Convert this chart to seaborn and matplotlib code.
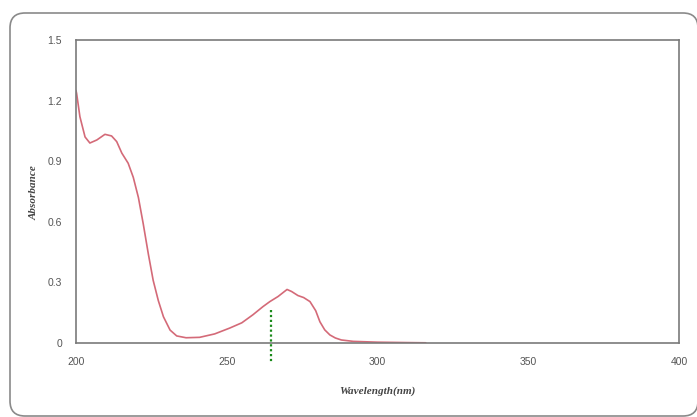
import matplotlib
matplotlib.use("Agg")
import matplotlib.pyplot as plt
from matplotlib.patches import FancyBboxPatch
from matplotlib.transforms import IdentityTransform
import seaborn as sns
import pandas as pd

wavelength = [200.0, 200.2, 201.3, 203.0, 204.6, 206.9, 209.6, 211.8, 213.5, 215.2,
              217.3, 219.0, 220.7, 222.3, 224.0, 225.6, 227.3, 229.0, 231.2, 233.4,
              236.5, 241.0, 246.0, 251.0, 255.0, 258.7, 262.0, 264.3, 267.0, 270.0,
              271.5, 273.6, 275.5, 277.6, 279.5, 280.9, 282.5, 284.2, 286.0, 288.0,
              292.0, 300.0, 310.0, 316.0]
absorbance = [1.25, 1.236, 1.12, 1.02, 0.99, 1.005, 1.033, 1.025, 0.997, 0.94,
              0.89, 0.82, 0.72, 0.59, 0.44, 0.31, 0.21, 0.13, 0.064, 0.035,
              0.026, 0.028, 0.045, 0.074, 0.10, 0.14, 0.18, 0.205, 0.23, 0.265,
              0.255, 0.235, 0.225, 0.205, 0.16, 0.105, 0.065, 0.04, 0.025, 0.015,
              0.008, 0.004, 0.002, 0.001]
marker_x = [264.7, 264.7]
marker_y = [0.163, -0.10]

x_ticks = [200, 250, 300, 350, 400]
y_ticks = [0, 0.3, 0.6, 0.9, 1.2, 1.5]
y_tick_labels = ["0", "0.3", "0.6", "0.9", "1.2", "1.5"]

sns.set_style("white")
fig = plt.figure(figsize=(6.97, 4.17), dpi=100)
ax = fig.add_axes([76/697, 74/417, 603/697, 303/417])

df = pd.DataFrame({"Wavelength": wavelength, "Absorbance": absorbance})
sns.lineplot(data=df, x="Wavelength", y="Absorbance", ax=ax, color="#d46a78",
             linewidth=1.2, sort=False)
ax.plot(marker_x, marker_y, color="#1a8a1a", linestyle=(0, (1, 1.2)), linewidth=1.6,
        clip_on=False)

ax.set_xlim(200, 400)
ax.set_ylim(0, 1.5)
ax.set_xticks(x_ticks)
ax.set_xticklabels([str(t) for t in x_ticks])
ax.set_yticks(y_ticks)
ax.set_yticklabels(y_tick_labels)
for s in ax.spines.values():
    s.set_color("#7a7a7a")
    s.set_linewidth(1.2)
ax.tick_params(axis="x", direction="in", length=4, color="#7a7a7a", labelsize=7.5,
               labelcolor="#555555", pad=10)
ax.tick_params(axis="y", direction="out", length=4, color="#7a7a7a", labelsize=7.5,
               labelcolor="#555555", pad=6)
for lab in ax.get_xticklabels() + ax.get_yticklabels():
    lab.set_family("Liberation Sans")

ax.set_xlabel("Wavelength(nm)", fontfamily="Liberation Serif", fontstyle="italic",
              fontweight="bold", fontsize=8, color="#444444", labelpad=14)
ax.set_ylabel("Absorbance", fontfamily="Liberation Serif", fontstyle="italic",
              fontweight="bold", fontsize=8, color="#444444")
ax.yaxis.set_label_coords((39 - 76) / 603, (343 - 193) / 303)

frame = FancyBboxPatch((10, 1), 688, 403,
                       boxstyle="round,pad=0,rounding_size=15",
                       transform=IdentityTransform(), fill=False,
                       edgecolor="#8a8a8a", linewidth=1.2)
fig.patches.append(frame)

fig.savefig("out.png", dpi=100)
